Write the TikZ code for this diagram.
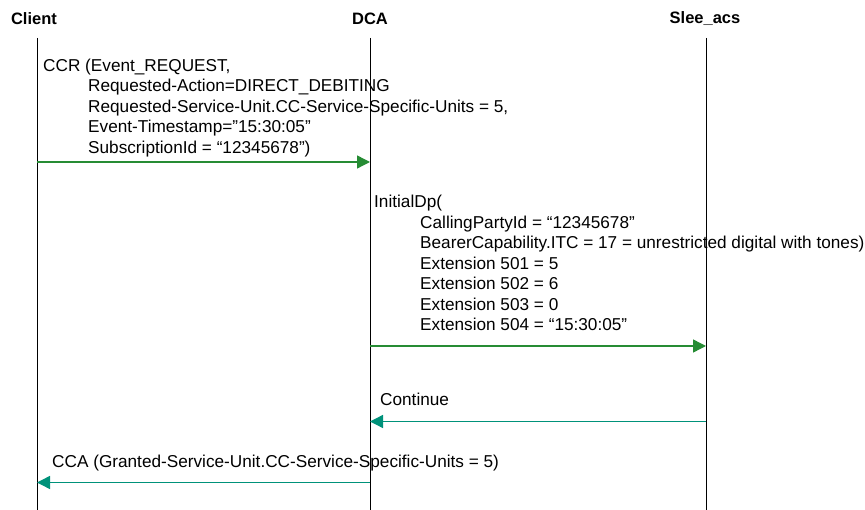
\documentclass[tikz,border=0pt]{standalone}
\usepackage{fontspec}
\setmainfont{Liberation Sans}
\usetikzlibrary{arrows.meta}
\definecolor{reqgreen}{RGB}{38,140,52}
\definecolor{ansteal}{RGB}{0,146,122}

\begin{document}
\begin{tikzpicture}[
		x=1pt, y=-1pt,
		every node/.style={inner sep=0pt, font=\fontsize{17.2}{20.5}\selectfont},
		head/.style={font=\fontsize{16.5}{17.6}\selectfont\bfseries},
		msg/.style={anchor=base west, align=left},
		lifeline/.style={line width=0.8pt},
		req/.style={reqgreen, line width=1.4pt, -{Triangle[length=13pt,width=13pt]}},
		ans/.style={ansteal, line width=1.4pt, -{Triangle[length=13pt,width=13pt]}}
	]
  \useasboundingbox (0,0) rectangle (865,510);
  % participants
  \node (client) [head] at (34,18.5) {Client};
  \node (dca) [head] at (370,18.5) {DCA};
  \node (slee) [head] at (705,18.5) {Slee\_acs};
  \coordinate (client_top) at (37,38);
  \coordinate (client_end) at (37,510);
  \coordinate (dca_top) at (370,38);
  \coordinate (dca_end) at (370,510);
  \coordinate (slee_top) at (706,38);
  \coordinate (slee_end) at (706,510);
  \draw[lifeline] (client_top) -- (client_end);
  \draw[lifeline] (dca_top) -- (dca_end);
  \draw[lifeline] (slee_top) -- (slee_end);
  % CCR (base = last line)
  \node (ccr) [msg] at (43,153.5) {CCR (Event\_REQUEST,\\
    \hspace*{45pt}Requested-Action=DIRECT\_DEBITING\\
    \hspace*{45pt}Requested-Service-Unit.CC-Service-Specific-Units = 5,\\
    \hspace*{45pt}Event-Timestamp=”15:30:05”\\
    \hspace*{45pt}SubscriptionId = “12345678”)};
  \coordinate (ccr_from) at (37,162);
  \coordinate (ccr_to) at (370,162);
  \draw[req] (ccr_from) -- (ccr_to);
  % InitialDp
  \node (idp) [msg] at (374,331) {InitialDp(\\
    \hspace*{46pt}CallingPartyId = “12345678”\\
    \hspace*{46pt}BearerCapability.ITC = 17 = unrestricted digital with tones)\\
    \hspace*{46pt}Extension 501 = 5\\
    \hspace*{46pt}Extension 502 = 6\\
    \hspace*{46pt}Extension 503 = 0\\
    \hspace*{46pt}Extension 504 = “15:30:05”};
  \coordinate (idp_from) at (370,346);
  \coordinate (idp_to) at (706,346);
  \draw[req] (idp_from) -- (idp_to);
  % Continue
  \node (cont) [msg] at (380,406) {Continue};
  \coordinate (cont_from) at (706,421.5);
  \coordinate (cont_to) at (370,421.5);
  \draw[ans] (cont_from) -- (cont_to);
  % CCA
  \node (cca) [msg] at (52,467.5) {CCA (Granted-Service-Unit.CC-Service-Specific-Units = 5)};
  \coordinate (cca_from) at (370,482.5);
  \coordinate (cca_to) at (37,482.5);
  \draw[ans] (cca_from) -- (cca_to);
\end{tikzpicture}
\end{document}
